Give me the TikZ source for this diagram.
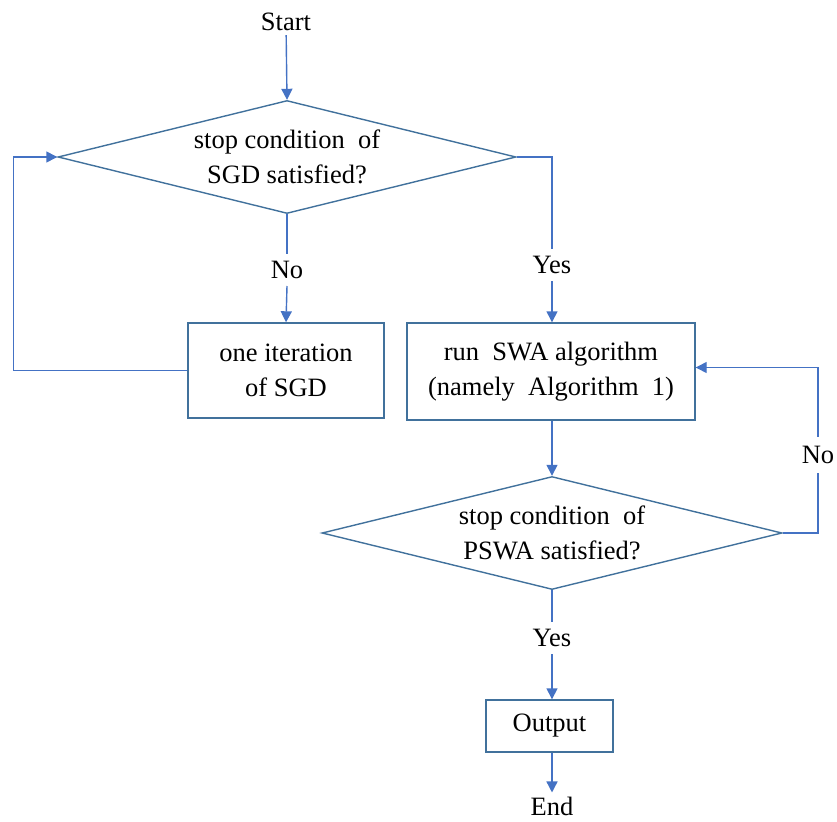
\documentclass[tikz,border=0pt]{standalone}
\usepackage{fontspec}
\setmainfont{Liberation Serif}
\usetikzlibrary{shapes.geometric,arrows.meta}
\definecolor{lineblue}{HTML}{4472C4}
\definecolor{boxblue}{HTML}{41719C}
\begin{document}
\begin{tikzpicture}[x=1pt,y=-1pt,
  every node/.style={font=\fontsize{26.5}{35}\selectfont, align=center},
  conn/.style={draw=lineblue, line width=1.4pt},
  arr/.style={conn, -{Triangle[width=11pt,length=11pt]}},
  procbox/.style={draw=boxblue, line width=1.4pt, rectangle, inner sep=0pt},
  decide/.style={draw=boxblue, line width=1.4pt, diamond, aspect=4.05, inner sep=0pt},
  lbl/.style={inner sep=4pt}]
\useasboundingbox (0,0) rectangle (837,821);

\node[lbl] (start) at (286,22) {Start};
\node[decide, minimum width=458pt, minimum height=113pt] (d1) at (287,157) {stop condition \ of\\SGD satisfied?};
\node[lbl, inner sep=7pt] (no1) at (287,270) {No};
\node[procbox, minimum width=196pt, minimum height=95pt] (b1) at (286,370.5) {one iteration\\of SGD};
\node[lbl, inner sep=7pt] (yes1) at (552,265) {Yes};
\node[procbox, minimum width=288pt, minimum height=97pt] (b2) at (551,371.5) {run \ SWA algorithm\\(namely \ Algorithm \ 1)};
\node[decide, minimum width=460pt, minimum height=113pt] (d2) at (552,533) {stop condition \ of\\PSWA satisfied?};
\node[lbl, inner sep=9pt] (no2) at (818,455) {No};
\node[lbl, inner sep=7pt] (yes2) at (552,638) {Yes};
\node[procbox, minimum width=127pt, minimum height=52pt] (out) at (549.5,726) {Output};
\node[lbl] (end) at (552,806) {End};

\draw[arr] (start) -- (d1.north);
\draw[conn] (d1.south) -- (no1.north);
\draw[arr] (no1.south) -- (b1.north);
\draw[arr] (b1.west) -- ++(-174,0) |- (d1.west);
\draw[conn] (d1.east) -| (yes1.north);
\draw[arr] (yes1.south) -- (b2.north -| yes1.south);
\draw[arr] (b2.south -| d2.north) -- (d2.north);
\draw[conn] (d2.east) -| (no2.south);
\draw[arr] (no2.north) |- ([yshift=4pt]b2.east);
\draw[conn] (d2.south) -- (yes2.north);
\draw[arr] (yes2.south) -- (out.north -| yes2.south);
\draw[arr] (out.south -| end.north) -- (end.north);
\end{tikzpicture}
\end{document}
